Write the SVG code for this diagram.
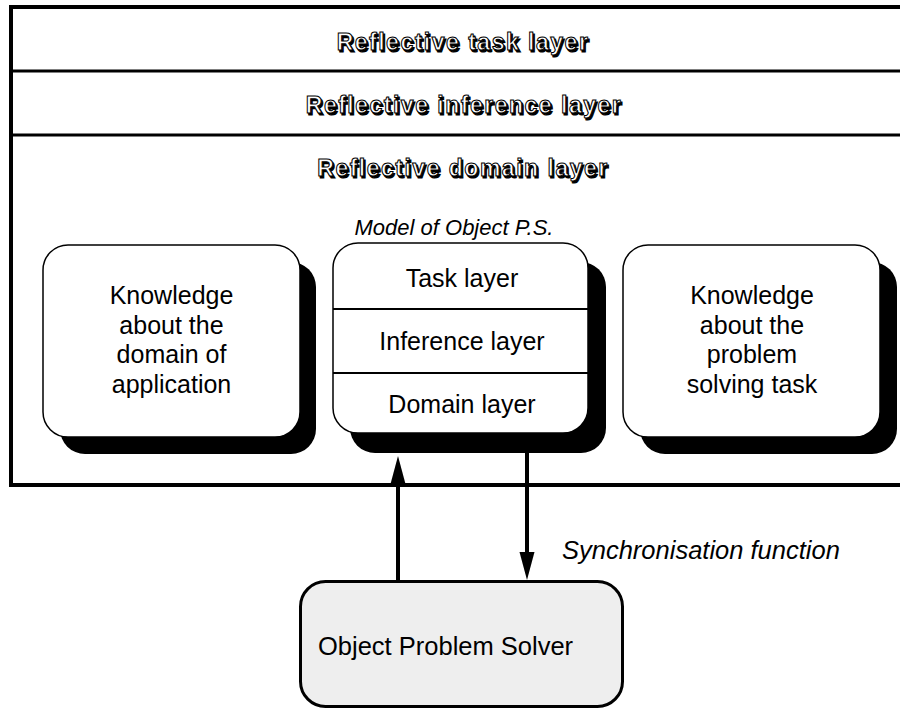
<svg xmlns="http://www.w3.org/2000/svg" width="900" height="709" viewBox="0 0 900 709">
<defs>
<style>
.hdr{font-family:"Liberation Sans",Arial,sans-serif;font-weight:bold;font-size:23px;letter-spacing:1.5px;text-anchor:middle}
.hdr-sh{fill:#000;stroke:#000;stroke-width:1.2}
.hdr-fg{fill:#fff;stroke:#000;stroke-width:1}
.txt{font-family:"Liberation Sans",Arial,sans-serif;font-size:25px;fill:#000;text-anchor:middle}
.txt-l{font-family:"Liberation Sans",Arial,sans-serif;font-size:25.5px;fill:#000}
.it{font-family:"Liberation Sans",Arial,sans-serif;font-style:italic;fill:#000}
.box{fill:#fff;stroke:#000;stroke-width:1.5}
.shadow{fill:#000}
.frame{fill:none;stroke:#000;stroke-width:4}
.div{stroke:#000;stroke-width:3}
.sub{stroke:#000;stroke-width:2}
.conn{stroke:#000;stroke-width:4;fill:none}
</style>
<marker id="ah" markerUnits="userSpaceOnUse" markerWidth="30" markerHeight="16" viewBox="0 0 28 16" refX="0" refY="8" orient="auto">
<path d="M0,0.5 L28,8 L0,15.5 Z" fill="#000"/>
</marker>
</defs>
<rect width="900" height="709" fill="#fff"/>
<g id="frame">
<rect class="frame" x="11" y="7" width="900" height="478"/>
<line class="div" x1="11" y1="71" x2="900" y2="71"/>
<line class="div" x1="11" y1="135" x2="900" y2="135"/>
</g>
<g id="reflective-task-layer">
<text class="hdr hdr-sh" x="464.5" y="51.5">Reflective task layer</text>
<text class="hdr hdr-fg" x="463" y="50">Reflective task layer</text>
</g>
<g id="reflective-inference-layer">
<text class="hdr hdr-sh" x="465.5" y="114.5">Reflective inference layer</text>
<text class="hdr hdr-fg" x="464" y="113">Reflective inference layer</text>
</g>
<g id="reflective-domain-layer">
<text class="hdr hdr-sh" x="464.5" y="177.5">Reflective domain layer</text>
<text class="hdr hdr-fg" x="463" y="176">Reflective domain layer</text>
</g>
<g id="domain-knowledge">
<rect class="shadow" x="60" y="262" width="256" height="192" rx="25"/>
<rect class="box" x="43" y="245" width="257" height="192" rx="25"/>
<text class="txt" x="171.5" y="304">Knowledge</text>
<text class="txt" x="171.5" y="334">about the</text>
<text class="txt" x="171.5" y="363">domain of</text>
<text class="txt" x="171.5" y="393">application</text>
</g>
<g id="model-object-ps">
<text class="it" x="454" y="235" font-size="22" text-anchor="middle">Model of Object P.S.</text>
<rect class="shadow" x="350" y="262" width="256" height="191" rx="25"/>
<rect class="box" x="333" y="243" width="255" height="190" rx="25"/>
<line class="sub" x1="333" y1="309" x2="588" y2="309"/>
<line class="sub" x1="333" y1="373" x2="588" y2="373"/>
<text class="txt" x="462" y="287">Task layer</text>
<text class="txt" x="462" y="350">Inference layer</text>
<text class="txt" x="462" y="413">Domain layer</text>
</g>
<g id="task-knowledge">
<rect class="shadow" x="640" y="262" width="257" height="192" rx="25"/>
<rect class="box" x="623" y="245" width="257" height="192" rx="25"/>
<text class="txt" x="752" y="304">Knowledge</text>
<text class="txt" x="752" y="334">about the</text>
<text class="txt" x="752" y="363">problem</text>
<text class="txt" x="752" y="393">solving task</text>
</g>
<g id="object-problem-solver">
<rect x="300.5" y="581.5" width="322" height="125" rx="25" fill="#eeeeee" stroke="#000" stroke-width="3"/>
<text class="txt-l" x="318" y="655">Object Problem Solver</text>
</g>
<g id="connectors">
<line class="conn" x1="398" y1="580" x2="398" y2="484" marker-end="url(#ah)"/>
<line class="conn" x1="527" y1="453" x2="527" y2="552" marker-end="url(#ah)"/>
<text class="it" x="562" y="559" font-size="25.5">Synchronisation function</text>
</g>
</svg>
